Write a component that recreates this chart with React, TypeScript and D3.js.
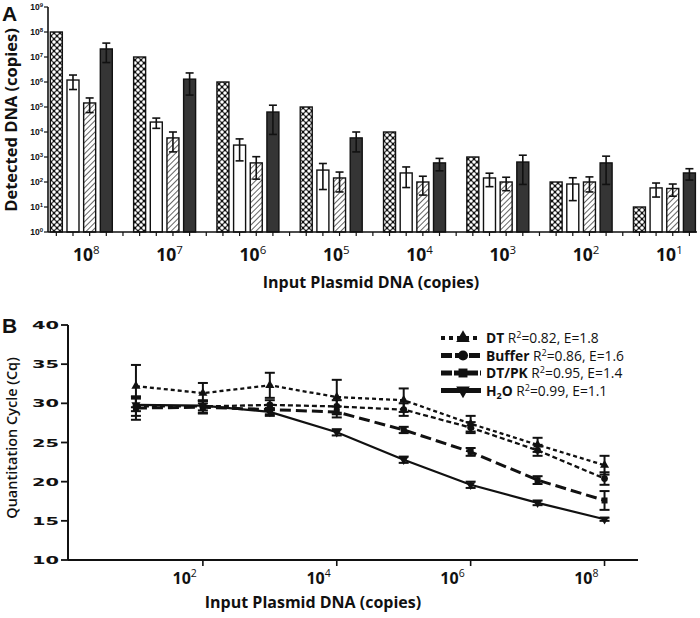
import React, { useEffect, useRef } from "react";
import * as d3 from "d3";

// Panel A: detected copies per input amount
const inputExponents = [8, 7, 6, 5, 4, 3, 2, 1];
const barSeries = ["input", "open", "hatched", "dark"];
const inputValues = [1e8, 1e7, 1e6, 1e5, 1e4, 1e3, 1e2, 1e1];
const openMean = [1.2e6, 2.5e4, 3.0e3, 3.0e2, 2.3e2, 1.45e2, 8.3e1, 5.8e1];
const openSd = [0.7e6, 1.1e4, 2.3e3, 2.5e2, 1.7e2, 8e1, 6.5e1, 3.3e1];
const hatchMean = [1.45e5, 5.8e3, 5.8e2, 1.45e2, 1.0e2, 1.0e2, 1.0e2, 5.5e1];
const hatchSd = [0.85e5, 4.2e3, 4.5e2, 1.05e2, 7e1, 5.5e1, 6e1, 2.8e1];
const darkMean = [2.1e7, 1.3e6, 6.3e4, 5.8e3, 5.8e2, 6.3e2, 5.8e2, 2.3e2];
const darkSd = [1.5e7, 1.0e6, 5.5e4, 4.2e3, 3e2, 5.5e2, 5e2, 1.1e2];
const yExponentsA = [0, 1, 2, 3, 4, 5, 6, 7, 8, 9];

// Panel B: Cq vs input
const cqCopies = [1e1, 1e2, 1e3, 1e4, 1e5, 1e6, 1e7, 1e8];
const dtCq = [32.2, 31.3, 32.3, 30.8, 30.4, 27.4, 24.7, 22.1];
const dtErr = [2.7, 1.3, 1.6, 2.2, 1.5, 1.0, 0.9, 1.2];
const bufferCq = [29.6, 29.6, 29.8, 29.6, 29.2, 26.9, 24.0, 20.4];
const bufferErr = [1.2, 0.8, 0.6, 0.8, 0.8, 0.7, 0.7, 0.8];
const dtpkCq = [29.4, 29.5, 29.2, 28.9, 26.6, 23.8, 20.2, 17.6];
const dtpkErr = [1.5, 0.8, 0.6, 0.7, 0.4, 0.5, 0.5, 1.2];
const h2oCq = [29.8, 29.7, 28.9, 26.3, 22.8, 19.6, 17.3, 15.2];
const h2oErr = [0.8, 0.6, 0.5, 0.4, 0.4, 0.4, 0.3, 0.2];
const yTicksB = [10, 15, 20, 25, 30, 35, 40];
const xTickExpB = [2, 4, 6, 8];
const legendNames = ["DT", "Buffer", "DT/PK", "H2O"];
const legendR2 = ["0.82", "0.86", "0.95", "0.99"];
const legendE = ["1.8", "1.6", "1.4", "1.1"];

const sans = "'Open Sans', 'Noto Sans', sans-serif";

const App = () => {
    const svgRef = useRef(null);

    useEffect(() => {
        const svg = d3.select(svgRef.current);
        svg.selectAll("*").remove();

        // patterns
        const defs = svg.append("defs");
        const xh = defs
            .append("pattern")
            .attr("id", "xhatch")
            .attr("width", 6)
            .attr("height", 6)
            .attr("patternUnits", "userSpaceOnUse");
        xh.append("rect").attr("width", 6).attr("height", 6).attr("fill", "#111");
        [[0, 0], [6, 0], [0, 6], [6, 6], [3, 3]].forEach(([cx, cy]) => {
            xh.append("circle")
                .attr("cx", cx)
                .attr("cy", cy)
                .attr("r", 1.8)
                .attr("fill", "white");
        });
        const dh = defs
            .append("pattern")
            .attr("id", "diag")
            .attr("width", 4)
            .attr("height", 4)
            .attr("patternUnits", "userSpaceOnUse")
            .attr("patternTransform", "rotate(45)");
        dh.append("rect").attr("width", 4).attr("height", 4).attr("fill", "white");
        dh.append("line")
            .attr("x1", 0)
            .attr("y1", 0)
            .attr("x2", 0)
            .attr("y2", 4)
            .attr("stroke", "#111")
            .attr("stroke-width", 1.3);

        // ---------------- Panel A ----------------
        const groupStep = 83.3;
        const xGroup = d3
            .scaleBand()
            .domain(inputExponents.map(String))
            .range([48, 48 + inputExponents.length * groupStep])
            .padding(0);
        const xSlot = d3
            .scaleBand()
            .domain([...barSeries, "gap"])
            .range([0, groupStep])
            .paddingInner(0.28)
            .paddingOuter(0.14);
        const yA = d3.scaleLog().domain([1, 1e9]).range([232, 7]);
        const gA = svg.append("g");

        const means = [inputValues, openMean, hatchMean, darkMean];
        const sds = [null, openSd, hatchSd, darkSd];
        const fills = ["url(#xhatch)", "white", "url(#diag)", "#353535"];

        inputExponents.forEach((e, gi) => {
            const g0 = xGroup(String(e));
            barSeries.forEach((s, si) => {
                const v = means[si][gi];
                const bx = g0 + xSlot(s);
                const bw = xSlot.bandwidth();
                gA.append("rect")
                    .attr("x", bx)
                    .attr("y", yA(v))
                    .attr("width", bw)
                    .attr("height", yA(1) - yA(v))
                    .attr("fill", fills[si])
                    .attr("stroke", "#111")
                    .attr("stroke-width", 1.4);
                if (sds[si]) {
                    const sd = sds[si][gi];
                    const hi = v + sd;
                    const lo = Math.max(v - sd, 1.5);
                    const cx = bx + bw / 2;
                    gA.append("line")
                        .attr("x1", cx)
                        .attr("x2", cx)
                        .attr("y1", yA(hi))
                        .attr("y2", yA(lo))
                        .attr("stroke", "#111")
                        .attr("stroke-width", 1.6);
                    [hi, lo].forEach((yy) => {
                        gA.append("line")
                            .attr("x1", cx - 4)
                            .attr("x2", cx + 4)
                            .attr("y1", yA(yy))
                            .attr("y2", yA(yy))
                            .attr("stroke", "#111")
                            .attr("stroke-width", 1.6);
                    });
                }
            });
            // slot ticks under the axis
            [...barSeries, "gap"].forEach((s) => {
                const tx = g0 + xSlot(s) + xSlot.bandwidth() / 2;
                if (tx > 697) return;
                gA.append("line")
                    .attr("x1", tx)
                    .attr("x2", tx)
                    .attr("y1", yA(1))
                    .attr("y2", yA(1) + 4)
                    .attr("stroke", "#111")
                    .attr("stroke-width", 1.2);
            });
            // category label
            const lab = gA
                .append("text")
                .attr("x", g0 + xSlot.step() * 2.3)
                .attr("y", 261)
                .attr("text-anchor", "middle")
                .attr("font-family", sans)
                .attr("font-weight", 700)
                .attr("font-size", 17.5)
                .attr("fill", "#111");
            lab.append("tspan").text("10");
            lab.append("tspan")
                .attr("font-size", 11.5)
                .attr("dy", -7)
                .attr("font-weight", 400)
                .text(String(e));
        });

        // axes A
        gA.append("line")
            .attr("x1", 48)
            .attr("x2", 48)
            .attr("y1", yA(1e9))
            .attr("y2", yA(1))
            .attr("stroke", "#111")
            .attr("stroke-width", 1.6);
        gA.append("line")
            .attr("x1", 48)
            .attr("x2", 697)
            .attr("y1", yA(1))
            .attr("y2", yA(1))
            .attr("stroke", "#111")
            .attr("stroke-width", 1.6);
        yExponentsA.forEach((n) => {
            const yy = yA(Math.pow(10, n));
            gA.append("line")
                .attr("x1", 44)
                .attr("x2", 48)
                .attr("y1", yy)
                .attr("y2", yy)
                .attr("stroke", "#111")
                .attr("stroke-width", 1.2);
            const t = gA
                .append("text")
                .attr("x", 43)
                .attr("y", yy + 3)
                .attr("text-anchor", "end")
                .attr("font-family", "Arial, 'Liberation Sans', sans-serif")
                .attr("font-weight", 700)
                .attr("font-size", 8.5)
                .attr("fill", "#111");
            t.append("tspan").text("10");
            t.append("tspan").attr("font-size", 6).attr("dy", -3.5).text(String(n));
        });
        gA.append("text")
            .attr("transform", "translate(17,120) rotate(-90)")
            .attr("text-anchor", "middle")
            .attr("font-family", sans)
            .attr("font-weight", 700)
            .attr("font-size", 16.5)
            .attr("fill", "#111")
            .text("Detected DNA (copies)");
        gA.append("text")
            .attr("x", 371)
            .attr("y", 288)
            .attr("text-anchor", "middle")
            .attr("font-family", sans)
            .attr("font-weight", 700)
            .attr("font-size", 16)
            .attr("fill", "#111")
            .text("Input Plasmid DNA (copies)");
        svg.append("text")
            .attr("x", 2)
            .attr("y", 21)
            .attr("font-family", "Arial, 'Liberation Sans', sans-serif")
            .attr("font-weight", 700)
            .attr("font-size", 21)
            .attr("fill", "#111")
            .text("A");

        // ---------------- Panel B ----------------
        const xB = d3.scaleLog().domain([1, Math.pow(10, 8.5)]).range([69, 638]);
        const yB = d3.scaleLinear().domain([10, 40]).range([560, 325]);
        const gB = svg.append("g");

        gB.append("line")
            .attr("x1", 68)
            .attr("x2", 68)
            .attr("y1", yB(40))
            .attr("y2", yB(10))
            .attr("stroke", "#111")
            .attr("stroke-width", 2);
        gB.append("line")
            .attr("x1", 68)
            .attr("x2", 638)
            .attr("y1", yB(10))
            .attr("y2", yB(10))
            .attr("stroke", "#111")
            .attr("stroke-width", 2);
        yTicksB.forEach((v) => {
            gB.append("line")
                .attr("x1", 61)
                .attr("x2", 68)
                .attr("y1", yB(v))
                .attr("y2", yB(v))
                .attr("stroke", "#111")
                .attr("stroke-width", 1.8);
            gB.append("text")
                .attr("x", 59)
                .attr("y", yB(v) + 4)
                .attr("text-anchor", "end")
                .attr("font-family", "'DejaVu Sans', sans-serif")
                .attr("font-weight", 700)
                .attr("font-size", 11)
                .attr("textLength", 27)
                .attr("lengthAdjust", "spacingAndGlyphs")
                .attr("fill", "#111")
                .text(String(v));
        });
        xTickExpB.forEach((n) => {
            const xx = xB(Math.pow(10, n));
            gB.append("line")
                .attr("x1", xx)
                .attr("x2", xx)
                .attr("y1", yB(10))
                .attr("y2", yB(10) + 6)
                .attr("stroke", "#111")
                .attr("stroke-width", 1.6);
            const t = gB
                .append("text")
                .attr("x", xx - 6)
                .attr("y", 584)
                .attr("text-anchor", "end")
                .attr("font-family", sans)
                .attr("font-weight", 700)
                .attr("font-size", 16)
                .attr("fill", "#111");
            t.append("tspan").text("10");
            t.append("tspan").attr("font-size", 10.5).attr("font-weight", 400).attr("dy", -7).text(String(n));
        });
        gB.append("text")
            .attr("transform", "translate(17,438) rotate(-90)")
            .attr("text-anchor", "middle")
            .attr("font-family", sans)
            .attr("font-weight", 600)
            .attr("font-size", 14.5)
            .attr("fill", "#111")
            .text("Quantitation Cycle (Cq)");
        gB.append("text")
            .attr("x", 313)
            .attr("y", 608)
            .attr("text-anchor", "middle")
            .attr("font-family", sans)
            .attr("font-weight", 700)
            .attr("font-size", 16)
            .attr("fill", "#111")
            .text("Input Plasmid DNA (copies)");
        svg.append("text")
            .attr("x", 2)
            .attr("y", 333)
            .attr("font-family", "Arial, 'Liberation Sans', sans-serif")
            .attr("font-weight", 700)
            .attr("font-size", 21)
            .attr("fill", "#111")
            .text("B");

        const seriesB = [
            { vals: dtCq, err: dtErr, dash: "4,3", width: 2.3, sym: d3.symbolTriangle, rot: 0, lDash: "4,4", lWidth: 4 },
            { vals: bufferCq, err: bufferErr, dash: "5,3", width: 2.3, sym: d3.symbolCircle, rot: 0, lDash: "11,3", lWidth: 5 },
            { vals: dtpkCq, err: dtpkErr, dash: "11,5", width: 3, sym: d3.symbolSquare, rot: 0, lDash: "11,2", lWidth: 5 },
            { vals: h2oCq, err: h2oErr, dash: null, width: 2.2, sym: d3.symbolTriangle, rot: 180, lDash: null, lWidth: 5 },
        ];
        const line = d3
            .line()
            .x((d) => xB(d[0]))
            .y((d) => yB(d[1]));

        seriesB.forEach((s) => {
            const pts = cqCopies.map((c, i) => [c, s.vals[i]]);
            gB.append("path")
                .attr("d", line(pts))
                .attr("fill", "none")
                .attr("stroke", "#111")
                .attr("stroke-width", s.width)
                .attr("stroke-dasharray", s.dash);
        });
        seriesB.forEach((s) => {
            cqCopies.forEach((c, i) => {
                const cx = xB(c);
                const hi = s.vals[i] + s.err[i];
                const lo = s.vals[i] - s.err[i];
                gB.append("line")
                    .attr("x1", cx)
                    .attr("x2", cx)
                    .attr("y1", yB(hi))
                    .attr("y2", yB(lo))
                    .attr("stroke", "#111")
                    .attr("stroke-width", 2);
                [hi, lo].forEach((yy) => {
                    gB.append("line")
                        .attr("x1", cx - 5)
                        .attr("x2", cx + 5)
                        .attr("y1", yB(yy))
                        .attr("y2", yB(yy))
                        .attr("stroke", "#111")
                        .attr("stroke-width", 2);
                });
                gB.append("path")
                    .attr("d", d3.symbol().type(s.sym).size(36)())
                    .attr("transform", `translate(${cx},${yB(s.vals[i])}) rotate(${s.rot})`)
                    .attr("fill", "#111");
            });
        });

        // legend B
        const gL = svg.append("g");
        legendNames.forEach((name, i) => {
            const s = seriesB[i];
            const ly = 338 + i * 17.5;
            gL.append("line")
                .attr("x1", 441)
                .attr("x2", 481)
                .attr("y1", ly)
                .attr("y2", ly)
                .attr("stroke", "#111")
                .attr("stroke-width", s.lWidth)
                .attr("stroke-dasharray", s.lDash);
            gL.append("path")
                .attr("d", d3.symbol().type(s.sym).size(80)())
                .attr("transform", `translate(463,${ly}) rotate(${s.rot})`)
                .attr("fill", "#111");
            const t = gL
                .append("text")
                .attr("x", 486)
                .attr("y", ly + 5)
                .attr("font-family", sans)
                .attr("font-size", 13.8)
                .attr("fill", "#111");
            if (name === "H2O") {
                t.append("tspan").attr("font-weight", 700).text("H");
                t.append("tspan").attr("font-weight", 700).attr("font-size", 9).attr("dy", 3).text("2");
                t.append("tspan").attr("font-weight", 700).attr("dy", -3).text("O");
            } else {
                t.append("tspan").attr("font-weight", 700).text(name);
            }
            t.append("tspan").text(" R");
            t.append("tspan").attr("font-size", 9).attr("dy", -5).text("2");
            t.append("tspan").attr("dy", 5).text(`=${legendR2[i]}, E=${legendE[i]}`);
        });
    }, []);

    return (
        <svg
            ref={svgRef}
            width={700}
            height={618}
            style={{ position: "absolute", left: 0, top: 0, background: "white" }}
        ></svg>
    );
};

export default App;
